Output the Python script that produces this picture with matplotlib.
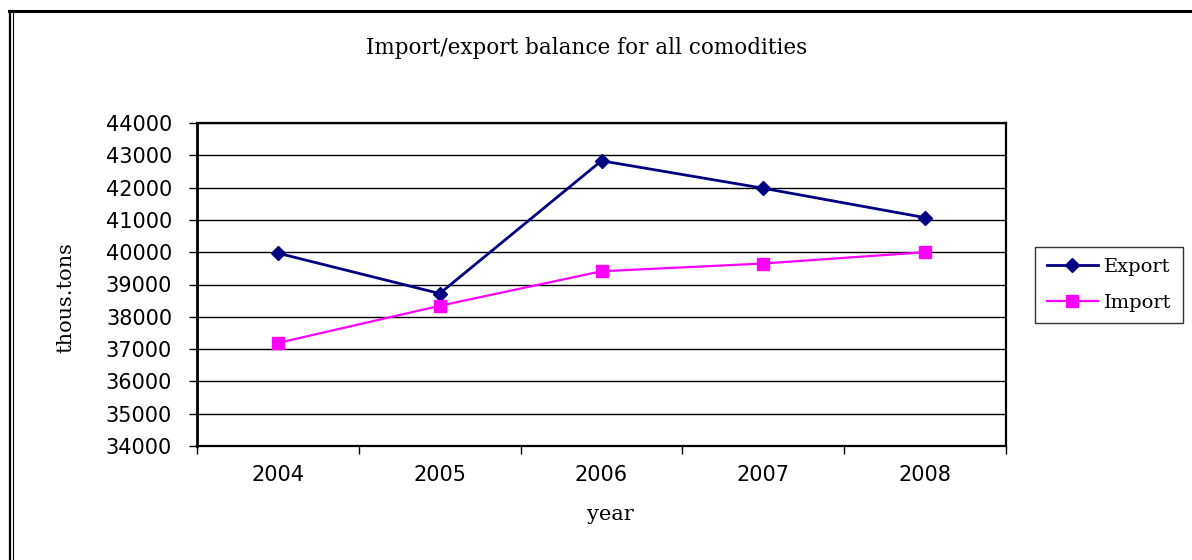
import matplotlib
matplotlib.use("Agg")
import matplotlib.pyplot as plt
from matplotlib.lines import Line2D
from matplotlib.ticker import FixedLocator, NullFormatter

years = ["2004", "2005", "2006", "2007", "2008"]
export_vals = [39970, 38720, 42830, 41980, 41070]
import_vals = [37190, 38340, 39410, 39650, 40000]
y_ticks = list(range(34000, 44001, 1000))

serif = ["DejaVu Serif"]
sans = ["DejaVu Sans"]

fig = plt.figure(figsize=(11.92, 5.6), dpi=100)
ax = fig.add_axes([197/1192, 1-446/560, (1006-197)/1192, (446-123)/560])

x = list(range(len(years)))
ax.plot(x, export_vals, color="#000080", marker="D", markersize=7, lw=2, label="Export")
ax.plot(x, import_vals, color="#FF00FF", marker="s", markersize=9, lw=1.6, label="Import")

ax.set_xlim(-0.5, len(years) - 0.5)
ax.set_ylim(34000, 44000)
ax.set_yticks(y_ticks)
ax.set_yticklabels([str(v) for v in y_ticks], fontfamily=sans, fontsize=15)
ax.set_xticks(x)
ax.set_xticklabels(years, fontfamily=sans, fontsize=15)
ax.tick_params(axis="x", which="major", length=0, pad=14)
ax.xaxis.set_minor_locator(FixedLocator([i - 0.5 for i in range(len(years) + 1)]))
ax.xaxis.set_minor_formatter(NullFormatter())
ax.tick_params(axis="x", which="minor", length=6, width=1, direction="out")
ax.tick_params(axis="y", length=6, width=1, direction="out", pad=12)
ax.grid(axis="y", color="#000000", lw=1)
ax.set_axisbelow(True)
ax.spines["left"].set_linewidth(2)
for s in ["top", "right", "bottom"]:
    ax.spines[s].set_linewidth(1.6)

fig.text(66/1192, 1-298/560, "thous.tons", rotation=90, ha="center", va="center",
         fontfamily=serif, fontsize=15)
fig.text(610/1192, 1-515/560, "year", ha="center", va="center",
         fontfamily=serif, fontsize=15)
fig.text(587/1192, 1-48/560, "Import/export balance for all comodities",
         ha="center", va="center", fontfamily=serif, fontsize=15.5)

leg = fig.legend(loc="center", bbox_to_anchor=(1109/1192, 1-285/560),
                 prop={"family": serif, "size": 14}, frameon=True,
                 fancybox=False, edgecolor="black", handlelength=2.6,
                 borderpad=0.6, labelspacing=0.9, handletextpad=0.3)
leg.get_frame().set_linewidth(1)

# outer border lines
fig.add_artist(Line2D([9/1192, 1], [1-11/560, 1-11/560], color="black", lw=2.2))
fig.add_artist(Line2D([10/1192, 10/1192], [0, 1-11/560], color="black", lw=1.6))
fig.add_artist(Line2D([13/1192, 13/1192], [0, 1-11/560], color="black", lw=0.8))

fig.savefig("out.png", dpi=100)
